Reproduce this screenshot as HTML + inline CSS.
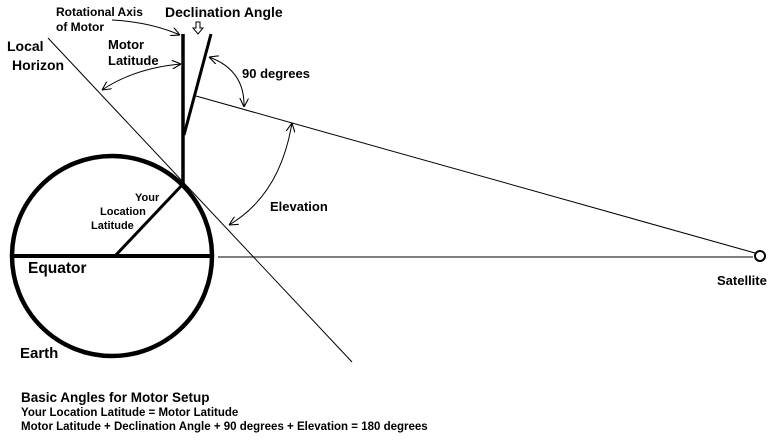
<!DOCTYPE html>
<html><head><style>
body{margin:0;background:#fff}
svg{display:block}
text{font-family:"Liberation Sans",Arial,sans-serif;font-weight:bold;fill:#000}
</style></head><body>
<svg width="780" height="443" viewBox="0 0 780 443">
<defs>
<marker id="a" viewBox="0 0 10 10" refX="10" refY="5" markerWidth="9" markerHeight="9" orient="auto-start-reverse"><path d="M0,0 L10,5 L0,10" fill="none" stroke="#000" stroke-width="1.2"/></marker>
</defs>
<circle cx="112" cy="256" r="100" fill="none" stroke="#000" stroke-width="4.5"/>
<line x1="13" y1="256" x2="210" y2="256" stroke="#000" stroke-width="4"/>
<line x1="218" y1="257" x2="753" y2="257" stroke="#000" stroke-width="1"/>
<line x1="115" y1="256" x2="183" y2="184" stroke="#000" stroke-width="3"/>
<line x1="183" y1="34" x2="183" y2="184" stroke="#000" stroke-width="3.5"/>
<line x1="211" y1="34" x2="184" y2="135" stroke="#000" stroke-width="3"/>
<line x1="48" y1="38" x2="352" y2="362" stroke="#000" stroke-width="1"/>
<line x1="196" y1="96" x2="755" y2="253" stroke="#000" stroke-width="1"/>
<circle cx="760" cy="256" r="5" fill="#fff" stroke="#000" stroke-width="2"/>
<path d="M102,90 Q135,68 181,64" fill="none" stroke="#000" marker-start="url(#a)" marker-end="url(#a)"/>
<path d="M209,57 Q245,70 244,107" fill="none" stroke="#000" marker-start="url(#a)" marker-end="url(#a)"/>
<path d="M292,123 Q280,195 229,225" fill="none" stroke="#000" marker-start="url(#a)" marker-end="url(#a)"/>
<path d="M112,20 Q150,22 180,35" fill="none" stroke="#000" marker-end="url(#a)"/>
<path d="M196,22 L200,22 L200,28 L203,28 L198,34 L193,28 L196,28 Z" fill="#fff" stroke="#000" stroke-width="1"/>
<text x="56" y="16" font-size="12">Rotational Axis</text>
<text x="56" y="31" font-size="12">of Motor</text>
<text x="165" y="17" font-size="14">Declination Angle</text>
<text x="7" y="51" font-size="14">Local</text>
<text x="12" y="70" font-size="14">Horizon</text>
<text x="108" y="49" font-size="13">Motor</text>
<text x="108" y="65" font-size="13">Latitude</text>
<text x="242" y="78" font-size="13">90 degrees</text>
<text x="270" y="211" font-size="13">Elevation</text>
<text x="135" y="201" font-size="11">Your</text>
<text x="100" y="215" font-size="11">Location</text>
<text x="91" y="229" font-size="11">Latitude</text>
<text x="28" y="273" font-size="15.5">Equator</text>
<text x="20" y="358" font-size="15">Earth</text>
<text x="717" y="285" font-size="13">Satellite</text>
<text x="21" y="402" font-size="13.5">Basic Angles for Motor Setup</text>
<text x="21" y="416" font-size="11.5">Your Location Latitude = Motor Latitude</text>
<text x="21" y="430" font-size="11.5">Motor Latitude + Declination Angle + 90 degrees + Elevation = 180 degrees</text>
</svg>
</body></html>
